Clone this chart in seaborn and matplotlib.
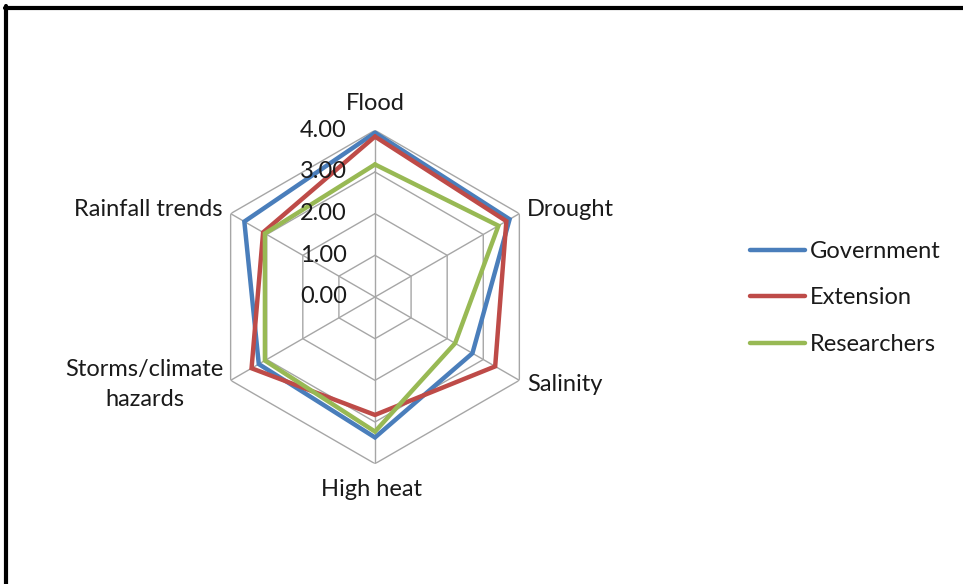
import numpy as np
import pandas as pd
import matplotlib
matplotlib.use("Agg")
import matplotlib.pyplot as plt
from matplotlib.lines import Line2D
import seaborn as sns

# Hazard categories, clockwise from the top
categories = ["Flood", "Drought", "Salinity", "High heat",
              "Storms/climate\nhazards", "Rainfall trends"]
government = [3.94, 3.73, 2.70, 3.37, 3.22, 3.62]
extension = [3.85, 3.64, 3.33, 2.83, 3.42, 3.10]
researchers = [3.18, 3.42, 2.22, 3.23, 3.05, 3.05]
groups = ["Government", "Extension", "Researchers"]
scale_ticks = [0.0, 1.0, 2.0, 3.0, 4.0]

colors = ["#4A7EBB", "#BE4B48", "#98B954"]
grid_color = "#a6a6a6"

sns.set_theme(style="white")
plt.rcParams["font.family"] = ["Lato", "DejaVu Sans"]
FS = 17

n = len(categories)
angles = np.linspace(0, 2 * np.pi, n, endpoint=False)
closed_angles = np.append(angles, 2 * np.pi)

rows = []
for name, vals in zip(groups, [government, extension, researchers]):
    closed_vals = list(vals) + [vals[0]]
    for a, v in zip(closed_angles, closed_vals):
        rows.append({"angle": a, "score": v, "group": name})
df = pd.DataFrame(rows)

fig = plt.figure(figsize=(9.63, 5.84), dpi=100)
ax = fig.add_axes([0.2163, 0.2060, 0.3462, 0.5709], projection="polar")
ax.set_theta_zero_location("N")
ax.set_theta_direction(-1)
ax.set_ylim(0, 4)
ax.grid(False)
ax.spines["polar"].set_visible(False)
ax.set_xticks([])
ax.set_yticks([])
ax.set_facecolor("none")

# hexagonal web: rings and spokes
for v in scale_ticks[1:]:
    ax.plot(closed_angles, [v] * (n + 1), color=grid_color, lw=1.0, zorder=1)
for a in angles:
    ax.plot([a, a], [0, scale_ticks[-1]], color=grid_color, lw=1.0, zorder=1)

sns.lineplot(data=df, x="angle", y="score", hue="group", hue_order=groups,
             palette=colors, sort=False, estimator=None, linewidth=3.2,
             solid_joinstyle="miter", ax=ax, zorder=3)
ax.set_xlabel("")
ax.set_ylabel("")

handles, labels = ax.get_legend_handles_labels()
ax.get_legend().remove()

# radial scale labels along the top spoke
for v in scale_ticks:
    ax.annotate(f"{v:.2f}", xy=(0, v), xytext=(-28, 0), textcoords="offset pixels",
                ha="right", va="center", fontsize=FS, color="#1a1a1a",
                annotation_clip=False, zorder=5)

# category labels around the web
label_offsets = [(0, 27, "center"), (8, 4, "left"), (8, -4, "left"),
                 (-3, -26, "center"), (-7, -4, "right"), (-8, 4, "right")]
for a, lab, (dx, dy, ha) in zip(angles, categories, label_offsets):
    ax.annotate(lab, xy=(a, scale_ticks[-1]), xytext=(dx, dy),
                textcoords="offset pixels", ha=ha, va="center",
                multialignment="center", linespacing=1.55,
                fontsize=FS, color="#1a1a1a", annotation_clip=False)

fig.legend(handles, labels, loc="center left",
           bbox_to_anchor=(750 / 963, 1 - 298 / 584), frameon=False,
           fontsize=FS, handlelength=2.35, handletextpad=0.2,
           labelspacing=1.08, borderpad=0, borderaxespad=0,
           labelcolor="#1a1a1a")

# chart area border (top and left edges)
fig.add_artist(Line2D([5 / 963, 1], [1 - 8 / 584, 1 - 8 / 584],
                      color="black", lw=3, transform=fig.transFigure))
fig.add_artist(Line2D([6 / 963, 6 / 963], [1 - 6 / 584, 0],
                      color="black", lw=3, transform=fig.transFigure))

fig.savefig("out.png", dpi=100)
